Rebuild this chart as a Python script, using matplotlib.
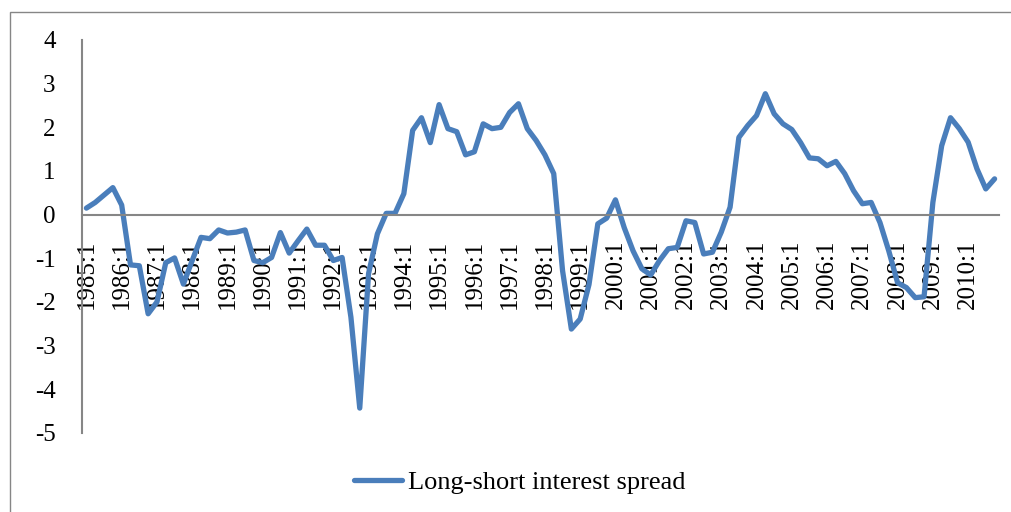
import matplotlib.pyplot as plt
from matplotlib.patches import Rectangle

# quarterly long-short interest spread, 1985:1 - 2010:4
years = list(range(1985, 2011))
quarters = [str(y) + ":" + str(q) for y in years for q in range(1, 5)]
spread = [0.15, 0.28, 0.45, 0.62, 0.22, -1.15, -1.17, -2.27,
          -2.0, -1.1, -0.99, -1.59, -1.05, -0.52, -0.55, -0.35,
          -0.42, -0.4, -0.35, -1.05, -1.1, -0.98, -0.41, -0.88,
          -0.6, -0.33, -0.7, -0.7, -1.05, -0.98, -2.35, -4.43,
          -1.35, -0.44, 0.03, 0.03, 0.48, 1.93, 2.22, 1.65,
          2.52, 1.97, 1.9, 1.37, 1.44, 2.08, 1.97, 2.0,
          2.34, 2.54, 1.97, 1.7, 1.37, 0.94, -1.28, -2.62,
          -2.39, -1.6, -0.21, -0.08, 0.34, -0.3, -0.83, -1.24,
          -1.38, -1.05, -0.78, -0.75, -0.14, -0.18, -0.9, -0.86,
          -0.4, 0.17, 1.77, 2.04, 2.27, 2.77, 2.31, 2.08,
          1.95, 1.65, 1.3, 1.28, 1.12, 1.22, 0.94, 0.55,
          0.25, 0.28, -0.18, -0.83, -1.56, -1.67, -1.9, -1.88,
          0.28, 1.58, 2.22, 1.97, 1.66, 1.05, 0.59, 0.82]
tick_labels = [str(y) + ":1" for y in years]
series_name = "Long-short interest spread"

plt.rcParams['font.family'] = ['Liberation Serif', 'DejaVu Serif']
axis_grey = '#868686'
line_blue = '#4A7EBB'

fig = plt.figure(figsize=(10.12, 5.12), dpi=100)
ax = fig.add_axes([82/1012, 1 - 433/512, (999 - 82)/1012, (433 - 40)/512])

x = list(range(len(spread)))
ax.plot(x, spread, color=line_blue, lw=3.8, solid_joinstyle='round',
        solid_capstyle='round', label=series_name)

ax.set_xlim(-0.5, len(spread) - 0.5)
ax.set_ylim(-5, 4)
ax.set_yticks(range(-5, 5))
ax.set_yticklabels([str(v) for v in range(-5, 5)])
ax.set_xticks(range(0, len(spread), 4))
ax.set_xticklabels(tick_labels)
ax.tick_params(axis='x', length=0, pad=18, labelsize=18, labelrotation=90)
ax.tick_params(axis='y', length=0, pad=19, labelsize=18)

for s in ['top', 'right']:
    ax.spines[s].set_visible(False)
ax.spines['bottom'].set_position(('data', 0))
ax.spines['bottom'].set_color(axis_grey)
ax.spines['left'].set_color(axis_grey)
ax.spines['bottom'].set_linewidth(1.5)
ax.spines['left'].set_linewidth(1.5)

# chart-area border (top and left edges visible)
fig.patches.append(Rectangle((10/1012, -0.1), 1.2, 1.1 - 12/512,
                             transform=fig.transFigure, fill=False,
                             edgecolor=axis_grey, lw=1))

fig.legend(loc='center', bbox_to_anchor=(520/1012, 1 - 482/512),
           frameon=False, fontsize=19, handlelength=1.8, handletextpad=0.25)

fig.savefig('out.png', dpi=100)
